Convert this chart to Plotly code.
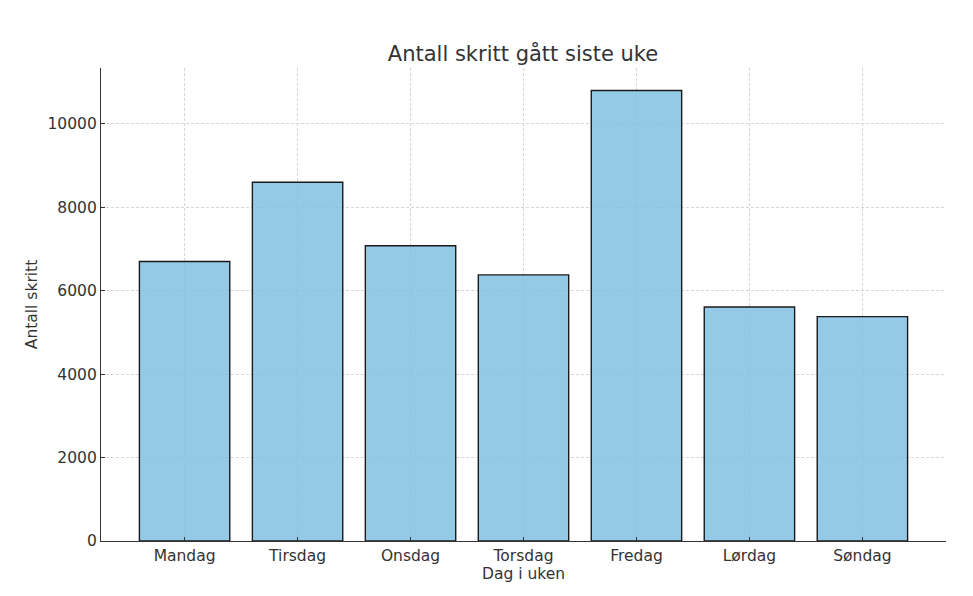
import plotly.graph_objects as go

days = ["Mandag", "Tirsdag", "Onsdag", "Torsdag", "Fredag", "Lørdag", "Søndag"]
steps = [6700, 8600, 7080, 6380, 10800, 5610, 5380]
y_ticks = [0, 2000, 4000, 6000, 8000, 10000]

title_text = "Antall skritt gått siste uke"
x_title = "Dag i uken"
y_title = "Antall skritt"

font_family = "DejaVu Sans"
text_color = "#333333"

fig = go.Figure(
    go.Bar(
        x=list(range(len(days))),
        y=steps,
        width=0.8,
        marker=dict(
            color="rgba(131,193,226,0.85)",
            line=dict(color="#1a1a1a", width=1.4),
        ),
    )
)

fig.update_layout(
    width=973,
    height=596,
    margin=dict(l=101, r=27, t=68, b=55),
    plot_bgcolor="white",
    paper_bgcolor="white",
    showlegend=False,
    font=dict(family=font_family, color=text_color, size=15.5),
    title=dict(
        text=title_text,
        x=0.5375,
        xanchor="center",
        y=0.91,
        yanchor="middle",
        font=dict(size=21, color=text_color, family=font_family),
    ),
)

grid_kw = dict(
    showgrid=True,
    gridcolor="#d6d6d6",
    gridwidth=0.8,
    griddash="3px,2px",
)

fig.update_xaxes(
    range=[-0.74, 6.74],
    tickmode="array",
    tickvals=list(range(len(days))),
    ticktext=days,
    ticks="inside",
    ticklen=4,
    tickwidth=1,
    tickcolor="#333333",
    showline=True,
    linecolor="#333333",
    linewidth=1.2,
    mirror=False,
    zeroline=False,
    tickfont=dict(size=15.5, color=text_color),
    title=dict(text=x_title, standoff=4, font=dict(size=15.5, color=text_color)),
    **grid_kw,
)

fig.update_yaxes(
    range=[0, 11340],
    tickmode="array",
    tickvals=y_ticks,
    ticktext=[str(v) for v in y_ticks],
    ticks="inside",
    ticklen=4,
    tickwidth=1,
    tickcolor="#333333",
    showline=True,
    linecolor="#333333",
    linewidth=1.2,
    mirror=False,
    zeroline=False,
    tickfont=dict(size=15.5, color=text_color),
    title=dict(text=y_title, standoff=6, font=dict(size=15.5, color=text_color)),
    **grid_kw,
)

fig.write_html("out.html")
